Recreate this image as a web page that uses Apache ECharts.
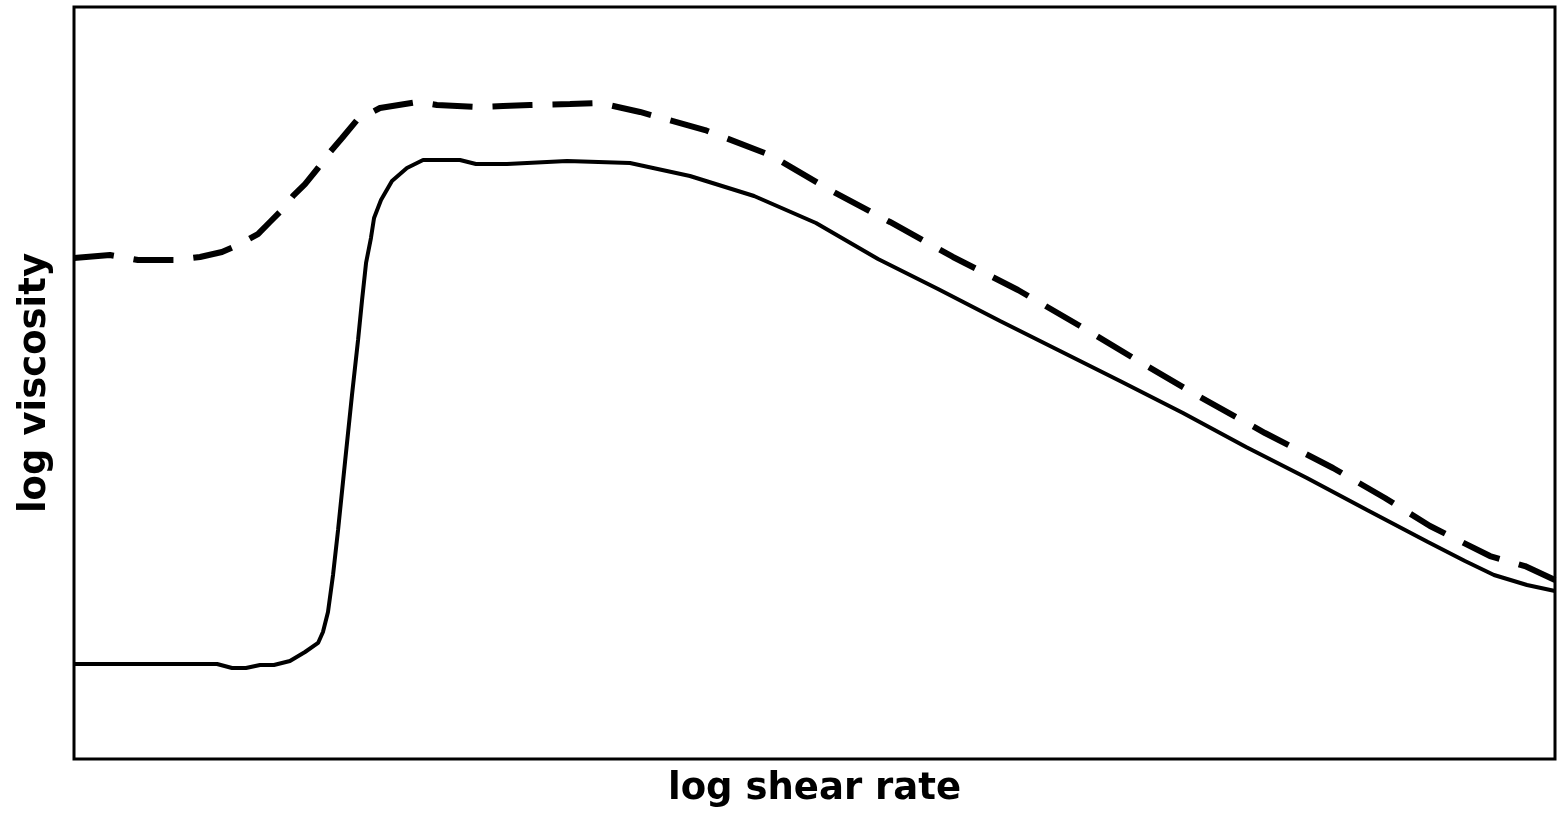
<!DOCTYPE html>
<html>
<head>
<meta charset="utf-8">
<script src="https://cdn.jsdelivr.net/npm/echarts@6/dist/echarts.min.js"></script>
<style>
html,body{margin:0;padding:0;background:#fff;}
#chart{width:1564px;height:821px;}
</style>
</head>
<body>
<div id="chart"></div>
<script>
// log shear rate (arbitrary 0-100 units) and log viscosity (arbitrary 0-100 units)
var solidX = [0, 9.66, 10.67, 11.61, 12.56, 13.50, 14.58, 15.60, 16.48, 16.81, 17.15, 17.49, 17.83, 18.30, 18.77, 19.18, 19.45, 19.72, 20.05, 20.26, 20.73, 21.47, 22.48, 23.57, 26.06, 27.14, 29.24, 33.29, 37.54, 41.59, 45.92, 50.10, 54.29, 58.34, 62.53, 66.58, 70.63, 74.88, 79.14, 83.25, 87.31, 91.42, 93.92, 95.88, 98.11, 100];
var solidY = [12.63, 12.63, 12.10, 12.10, 12.50, 12.50, 13.03, 14.23, 15.43, 16.89, 19.55, 24.47, 30.45, 39.49, 48.40, 55.72, 61.04, 65.96, 69.28, 71.94, 74.34, 76.86, 78.59, 79.65, 79.65, 79.12, 79.12, 79.52, 79.26, 77.53, 74.87, 71.28, 66.49, 62.50, 58.24, 54.26, 50.27, 46.01, 41.49, 37.37, 33.11, 28.86, 26.33, 24.47, 23.14, 22.34];
var dashedX = [0, 2.43, 4.32, 6.82, 8.51, 9.99, 11.21, 12.42, 13.23, 14.04, 14.79, 15.60, 16.48, 17.29, 18.10, 19.11, 20.66, 22.35, 23.23, 24.51, 27.21, 28.97, 30.79, 33.49, 35.52, 38.22, 42.61, 47.00, 51.05, 55.10, 59.35, 63.74, 67.93, 71.98, 76.03, 80.42, 85.01, 88.52, 91.56, 95.61, 97.97, 100];
var dashedY = [66.62, 67.02, 66.36, 66.36, 66.76, 67.42, 68.48, 69.81, 71.41, 73.01, 74.87, 76.46, 78.59, 80.72, 82.58, 84.97, 86.57, 87.10, 87.37, 86.97, 86.70, 86.84, 86.97, 87.10, 87.23, 86.04, 83.64, 80.32, 75.66, 71.41, 66.76, 62.37, 57.58, 52.79, 48.14, 43.35, 38.70, 34.71, 30.98, 26.99, 25.66, 23.80];
var xName = 'log shear rate';
var yName = 'log viscosity';

function pairs(xs, ys){ return xs.map(function(x,i){ return [x, ys[i]]; }); }

var chart = echarts.init(document.getElementById('chart'));
var nameStyle = {fontFamily: 'DejaVu Sans', fontWeight: 'bold', fontSize: 37, color: '#000'};
chart.setOption({
  animation: false,
  backgroundColor: '#fff',
  grid: {left: 74, right: 9, top: 7, bottom: 62, show: true, borderColor: '#000', borderWidth: 3, backgroundColor: 'transparent'},
  xAxis: {
    type: 'value', min: 0, max: 100,
    name: xName, nameLocation: 'middle', nameGap: 12,
    nameTextStyle: Object.assign({verticalAlign: 'top'}, nameStyle),
    axisLine: {show: false}, axisTick: {show: false}, axisLabel: {show: false}, splitLine: {show: false}
  },
  yAxis: {
    type: 'value', min: 0, max: 100,
    name: yName, nameLocation: 'middle', nameGap: 20,
    nameTextStyle: nameStyle,
    axisLine: {show: false}, axisTick: {show: false}, axisLabel: {show: false}, splitLine: {show: false}
  },
  series: [
    {
      type: 'line', data: pairs(dashedX, dashedY), symbol: 'none', smooth: false,
      lineStyle: {color: '#000', width: 6, type: [40, 20], cap: 'butt'}
    },
    {
      type: 'line', data: pairs(solidX, solidY), symbol: 'none', smooth: false,
      lineStyle: {color: '#000', width: 4, type: 'solid'}
    }
  ]
});
</script>
</body>
</html>
